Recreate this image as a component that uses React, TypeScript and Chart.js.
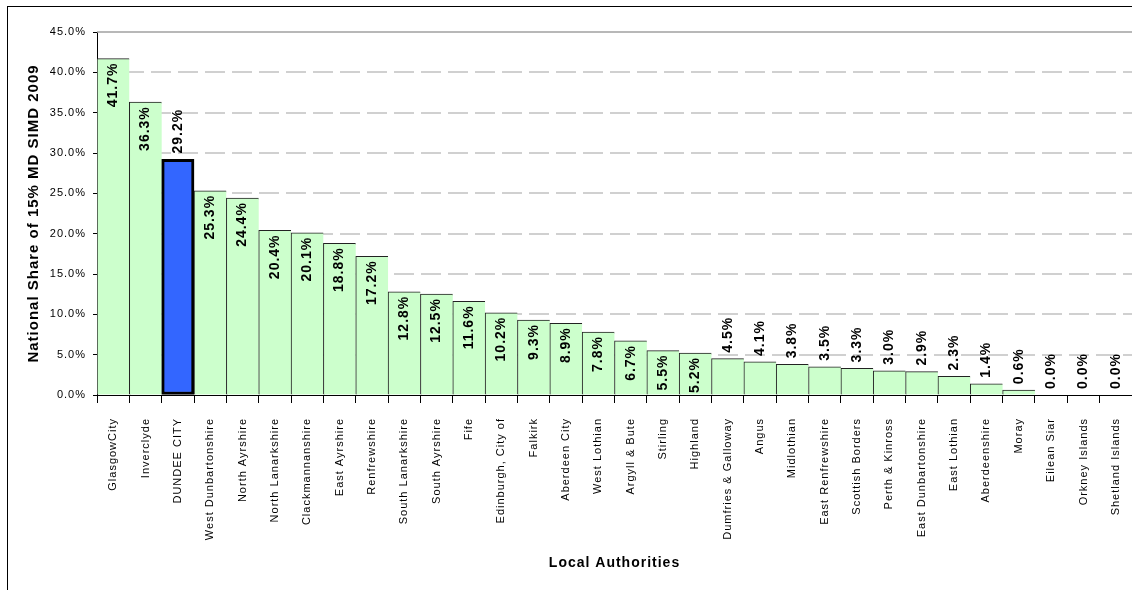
import { useEffect, useRef } from 'react';
import { Chart, registerables } from 'chart.js';

Chart.register(...registerables);

const categories = [
  'GlasgowCity', 'Inverclyde', 'DUNDEE CITY', 'West Dunbartonshire', 'North Ayrshire',
  'North Lanarkshire', 'Clackmannanshire', 'East Ayrshire', 'Renfrewshire', 'South Lanarkshire',
  'South Ayrshire', 'Fife', 'Edinburgh, City of', 'Falkirk', 'Aberdeen City', 'West Lothian',
  'Argyll & Bute', 'Stirling', 'Highland', 'Dumfries & Galloway', 'Angus', 'Midlothian',
  'East Renfrewshire', 'Scottish Borders', 'Perth & Kinross', 'East Dunbartonshire',
  'East Lothian', 'Aberdeenshire', 'Moray', 'Eilean Siar', 'Orkney Islands', 'Shetland Islands',
];

const shares = [
  41.7, 36.3, 29.2, 25.3, 24.4, 20.4, 20.1, 18.8, 17.2, 12.8, 12.5, 11.6, 10.2, 9.3, 8.9, 7.8,
  6.7, 5.5, 5.2, 4.5, 4.1, 3.8, 3.5, 3.3, 3.0, 2.9, 2.3, 1.4, 0.6, 0.0, 0.0, 0.0,
];

const highlightCategory = 'DUNDEE CITY';
const yAxisTitle = 'National Share of 15% MD SIMD 2009';
const xAxisTitle = 'Local Authorities';
const yMin = 0;
const yMax = 45;
const yStep = 5;

const FONT = "'Liberation Sans', Arial, sans-serif";
const fmt = (v: number) => v.toFixed(1) + '%';

const spacingPlugin = {
  id: 'spacing',
  beforeInit(chart: any) { chart.ctx.letterSpacing = '1px'; },
  beforeLayout(chart: any) { chart.ctx.letterSpacing = '1px'; },
  beforeDraw(chart: any) { chart.ctx.letterSpacing = '1px'; },
};

const gridPlugin = {
  id: 'customGrid',
  beforeDatasetsDraw(chart: any) {
    const { ctx, chartArea, scales } = chart;
    const y = scales.y;
    ctx.save();
    y.ticks.forEach((t: any) => {
      if (t.value <= yMin) return;
      const py = Math.round(y.getPixelForValue(t.value));
      ctx.beginPath();
      if (t.value >= yMax) {
        ctx.setLineDash([]);
        ctx.strokeStyle = '#A0A0A0';
        ctx.lineWidth = 1.5;
      } else {
        ctx.setLineDash([20, 7]);
        ctx.strokeStyle = '#D0D0D0';
        ctx.lineWidth = 2;
      }
      ctx.moveTo(chartArea.left, py);
      ctx.lineTo(chartArea.right + 10, py);
      ctx.stroke();
    });
    ctx.restore();
  },
};

const labelPlugin = {
  id: 'barLabels',
  afterDatasetsDraw(chart: any) {
    const { ctx } = chart;
    const meta = chart.getDatasetMeta(0);
    const data = chart.data.datasets[0].data as number[];
    ctx.save();
    ctx.letterSpacing = '1px';
    ctx.font = `bold 14px ${FONT}`;
    ctx.fillStyle = '#000';
    ctx.textBaseline = 'middle';
    meta.data.forEach((bar: any, i: number) => {
      const v = data[i];
      const above = v < 5 || chart.data.labels[i] === highlightCategory;
      ctx.save();
      if (above) {
        ctx.translate(bar.x, bar.y - 6);
        ctx.rotate(-Math.PI / 2);
        ctx.textAlign = 'left';
      } else {
        ctx.translate(bar.x, bar.y + 4);
        ctx.rotate(-Math.PI / 2);
        ctx.textAlign = 'right';
      }
      ctx.fillText(fmt(v), 0, 0);
      ctx.restore();
    });
    ctx.restore();
  },
};

export default function App() {
  const ref = useRef<HTMLCanvasElement | null>(null);

  useEffect(() => {
    if (!ref.current) return;
    const last = categories.length - 1;
    const chart = new Chart(ref.current, {
      type: 'bar',
      data: {
        labels: categories,
        datasets: [
          {
            data: shares,
            backgroundColor: categories.map((c) => (c === highlightCategory ? '#3366FF' : '#CCFFCC')),
            borderColor: categories.map((c) => (c === highlightCategory ? '#000000' : '#222222')),
            borderWidth: categories.map((c, i) =>
              c === highlightCategory
                ? { top: 3, left: 3, right: 3, bottom: 3 }
                : { top: 1, left: 1, right: i === last ? 1 : 0, bottom: 0 }
            ) as any,
            borderSkipped: false,
            barPercentage: 1,
            categoryPercentage: 1,
          },
        ],
      },
      options: {
        animation: false,
        responsive: true,
        maintainAspectRatio: false,
        layout: { padding: { top: 32, left: 0, right: 0, bottom: 0 } },
        plugins: {
          legend: { display: false },
          tooltip: { enabled: false },
        },
        scales: {
          x: {
            ticks: {
              autoSkip: false,
              maxRotation: 90,
              minRotation: 90,
              font: { family: FONT, size: 11 },
              color: '#000',
              padding: 15,
            },
            grid: {
              offset: true,
              drawOnChartArea: false,
              tickLength: 8,
              tickColor: '#000',
              color: '#000',
            },
            border: { color: '#000', width: 1 },
            title: {
              display: true,
              text: xAxisTitle,
              font: { family: FONT, size: 14, weight: 'bold' },
              color: '#000',
              padding: { top: 0, bottom: 18 },
            },
            afterFit: (s: any) => {
              s.height = 195;
              s.paddingLeft = 0;
              s.paddingRight = 0;
            },
          },
          y: {
            min: yMin,
            max: yMax,
            ticks: {
              stepSize: yStep,
              callback: (v: any) => fmt(Number(v)),
              font: { family: FONT, size: 11 },
              color: '#000',
              padding: 7,
            },
            grid: {
              drawOnChartArea: false,
              tickLength: 4,
              tickColor: '#000',
              color: '#000',
            },
            border: { color: '#000', width: 1 },
            title: {
              display: true,
              text: yAxisTitle,
              font: { family: FONT, size: 15, weight: 'bold' },
              color: '#000',
              padding: { top: 25, bottom: 0 },
            },
            afterFit: (s: any) => {
              s.width = 97;
            },
          },
        },
      },
      plugins: [spacingPlugin, gridPlugin, labelPlugin],
    });
    return () => chart.destroy();
  }, []);

  return (
    <div style={{ position: 'fixed', left: 0, top: 0, width: 1132, height: 590, background: '#fff', overflow: 'hidden' }}>
      <div
        style={{
          position: 'absolute',
          left: 7,
          top: 6,
          width: 1400,
          height: 900,
          borderLeft: '1px solid #000',
          borderTop: '1px solid #000',
          boxSizing: 'border-box',
        }}
      />
      <div style={{ position: 'absolute', left: 0, top: 0, width: 1132, height: 590 }}>
        <canvas ref={ref} />
      </div>
    </div>
  );
}
